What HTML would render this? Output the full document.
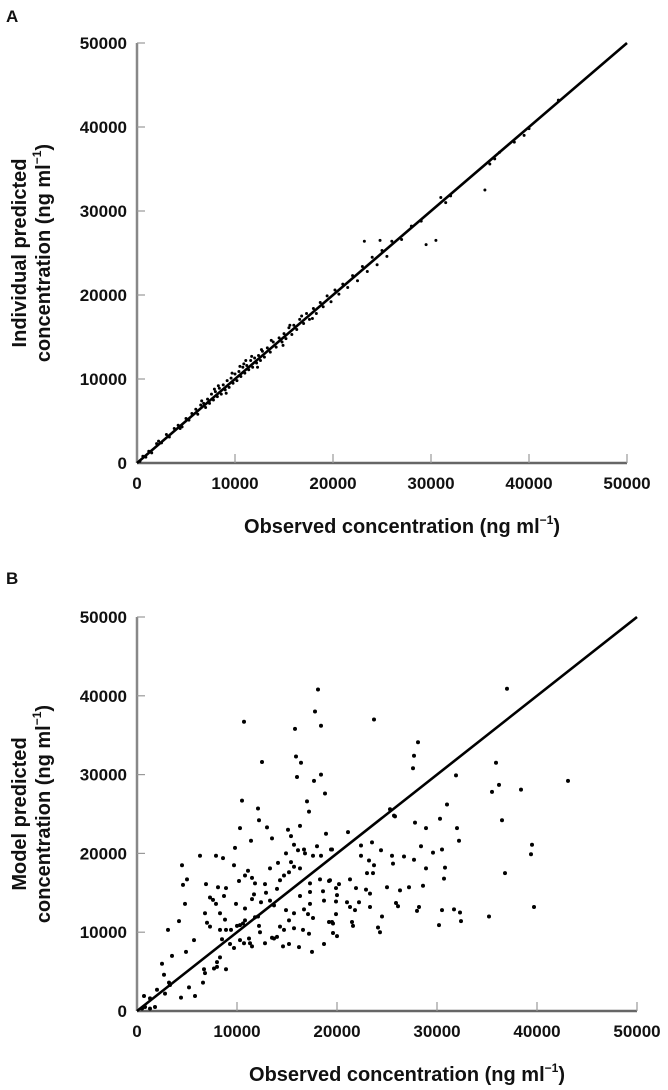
<!DOCTYPE html>
<html><head><meta charset="utf-8">
<style>
html,body{margin:0;padding:0;background:#fff;}
svg{display:block;}
text{font-family:"Liberation Sans",sans-serif;font-weight:bold;fill:#111;}
</style></head>
<body>
<svg id="fig" width="668" height="1090" viewBox="0 0 668 1090"></svg>
<script>
// Panel A data (ng/ml, thousands)
const aObs = [0.3,0.6,0.9,1.2,1.5,2,2.5,3,3.3,3.8,4.2,4.6,5,5.3,5.6,6,6.2,6.5,6.8,7,7.2,7.4,7.6,7.8,8,8.2,8.4,8.6,8.8,9,9.2,9.4,9.6,9.8,10,10.2,10.4,10.6,10.8,11,11.2,11.4,11.6,11.8,12,12.2,12.4,12.6,12.8,13,13.3,13.6,13.9,14.2,14.5,14.8,15,15.2,15.5,15.8,16,16.3,16.6,17,17.3,17.6,18,18.3,18.7,19,19.4,19.8,20.2,20.6,21,21.5,22,22.5,23,23.5,24,24.5,25,25.5,26,27,28,29,29.5,30.5,31,31.5,32,35.5,36,36.5,37,38.5,39.5,40,43,8.3,9.1,10.5,11.1,12.3,13.7,14.9,15.6,16.8,17.9,6.6,7.9,9.7,10.9,11.7,12.7,2.2,4.4,23.2,24.8];
const aPred = [0.2,0.8,0.7,1.4,1.2,2.3,2.4,3.4,3.1,4.1,4.5,4.3,5.3,5.1,5.9,6.4,5.8,6.9,7.1,6.6,7.6,7.1,8.2,7.5,8.5,7.9,8.9,8.2,9.3,8.7,9.8,9,10.1,9.5,10.6,9.8,10.9,10.3,11.4,10.7,11.6,11.1,12.2,11.4,12.5,11.9,12.8,12.2,13.3,12.6,13.7,13.2,14.4,13.8,14.9,14.4,15.4,14.8,16.1,15.3,16.4,15.9,17.1,16.6,17.8,17.1,18.4,17.8,19.1,18.6,19.9,19.2,20.6,20.1,21.3,20.9,22.3,21.7,23.4,22.8,24.5,23.6,25.3,24.6,26.4,26.6,28.2,28.8,26,26.5,31.6,31,31.8,32.5,35.6,36.2,37,38.2,39,39.8,43.2,9.2,8.3,11.5,12.2,11.4,14.6,14,16.4,17.5,17.2,7.4,8.8,10.7,11.8,12.7,13.5,2.6,4.1,26.4,26.5];
// Panel B data
const bObs = [18.1,10.7,17.8,18.4,15.8,23.7,12.5,15.9,16.4,16,18.4,17.7,18.8,10.5,17,17.2,12.1,12.2,13,10.3,15.1,16.3,15.4,18.9,21.1,25.7,37,28.1,27.7,27.6,35.9,31.9,36.2,35.5,38.4,43.1,31,25.8,27.8,28.9,30.3,32,36.5,25.3,39.5,39.4,36.8,39.7,32.2,22.4,23.5,24.4,19.5,22.4,25.5,26.7,25.6,23.2,23.7,23,23.6,27.7,28.4,29.6,30.5,28.9,30.8,30.7,28.6,21.3,20.2,19.9,20,21.9,22.9,23.3,25,26.3,27.2,19.9,21,21.3,21.8,22.2,23.3,25.9,26.1,28.2,28,19.9,24.5,30.5,31.7,32.3,32.4,35.2,30.2,19.5,21.5,21.6,24.1,24.3,19.6,20,19.3,11.4,13.5,9.8,15.7,16.1,16.7,16.8,18,19.4,6.3,7.9,8.6,14.9,17.6,18.4,4.5,9.7,14.1,15.4,15.7,16.3,15.2,13.3,11.1,10.8,11.5,5,4.6,10.2,11.8,6.9,8.1,8.9,14.3,14.7,12.8,14,17.3,18.3,19.2,7.3,7.6,7.9,8.7,11.7,11.5,12.4,9.9,10.8,12.9,13.3,13.7,16.3,17.3,17.3,18.7,18.6,4.8,6.8,8.3,8.8,11.8,12.1,10.8,14.9,15.7,16.7,17.1,15.2,17.6,4.2,7,7.3,8.3,8.9,10,10.3,10.6,9.4,12.2,12.3,14.3,14.7,14,13.7,15.7,16.6,17.2,19.2,19.6,3.1,5.7,8.5,9.3,9.7,10.3,10.7,11.2,11.3,11.5,12.8,13.5,14.6,15.2,16.2,17.5,18.7,4.9,3.5,2.5,8,8.3,7.7,8,8.9,6.7,6.8,6.6,2.7,3.2,3.3,5.2,4.4,5.8,2,2.8,0.7,1.3,0.8,1.3,1.8,0.5];
const bPred = [40.8,36.7,38,36.2,35.8,37,31.6,32.3,31.5,29.7,30,29.2,27.6,26.7,26.6,25.3,25.7,24.2,23.3,23.2,23,23.5,22.2,22.5,22.7,24.8,40.9,34.1,32.4,30.8,31.5,29.9,28.7,27.8,28.1,29.2,26.2,24.7,23.9,23.2,24.4,23.2,24.2,25.6,21.1,19.9,17.5,13.2,21.6,21,21.4,20.4,20.5,19.7,19.7,19.6,18.7,19.1,18.5,17.5,17.5,19.2,20.9,20.1,20.5,18.1,18.2,16.8,15.9,16.7,16.1,15.6,14.7,15.6,15.4,14.9,15.7,15.3,15.7,13.9,13.8,13.2,12.8,13.8,13.2,13.7,13.3,13.2,12.7,12.3,12,12.8,12.9,12.5,11.4,12,10.9,11.3,11.3,10.8,10.6,10,9.9,9.5,16.6,21.6,21.9,20.7,21.1,20.4,20.5,20,20.9,20.5,19.7,19.7,19.4,20,19.7,19.7,18.5,18.5,18.8,18.9,18.3,18.1,17.6,18.1,17.8,17.2,16.9,16.7,16,16.5,16.2,16.1,15.7,15.6,16.6,17.2,16.1,15.5,16.2,16.7,16.5,14.4,14.1,13.6,14.6,14.8,14.2,13.8,13.6,13,15,14,13.4,14.6,15.1,13.6,14,15.2,13.6,12.4,12.4,11.6,11.9,12,11.5,12.8,12.4,12.9,12.3,11.5,11.8,11.4,11.2,10.7,10.3,10.3,10.8,10.9,11.1,10.3,10.8,10,10.7,10.3,9.4,9.2,10.5,10.3,9.8,11.3,11.1,10.3,9,9.1,8.5,8,9,8.6,9.2,8.6,8.2,8.6,9.3,8.2,8.5,8.1,7.5,8.5,7.5,7,6,6.2,6.8,5.4,5.6,5.3,5.3,4.8,3.6,4.6,3.6,3.3,3,1.7,1.9,2.7,2.2,1.9,1.6,0.5,0.3,0.5,0.3];
const ticks = [0,10000,20000,30000,40000,50000];
const tickLabels = ["0","10000","20000","30000","40000","50000"];

const NS = "http://www.w3.org/2000/svg";
const svg = document.getElementById('fig');
function mk(tag, attrs, parent){
  const e = document.createElementNS(NS, tag);
  for (const k in attrs) e.setAttribute(k, attrs[k]);
  (parent||svg).appendChild(e);
  return e;
}
function panel(p, obs, pred, r, letter, ytitle1){
  const g = mk('g', {});
  
  
  const sx = v => p.x0 + (v/50000)*(p.x1-p.x0);
  const sy = v => p.y0 - (v/50000)*(p.y0-p.y1);
  const lt = mk('text', {x:p.letterX, y:p.letterY, 'font-size':17}, g);
  lt.textContent = letter;
  
  
  const ya = mk('line', {x1:p.x0, y1:p.y0, x2:p.x0, y2:p.y1, stroke:'#888', 'stroke-width':2.5}, g);
  
  
  const xa = mk('line', {x1:p.x0, y1:p.y0, x2:p.x1, y2:p.y0, stroke:'#666', 'stroke-width':2.5}, g);
  
  
  ticks.forEach((t,i)=>{
    if (i>0){
      const yt = mk('line', {x1:p.x0, y1:sy(t), x2:p.x0+8, y2:sy(t), stroke:'#999', 'stroke-width':1.2}, g);
      
      
      const xt = mk('line', {x1:sx(t), y1:p.y0, x2:sx(t), y2:p.y0-9, stroke:'#999', 'stroke-width':1.2}, g);
      
      
    }
    const yl = mk('text', {x:p.x0-10, y:sy(t)+6, 'text-anchor':'end', 'font-size':17}, g);
    yl.textContent = tickLabels[i];
    
    
    const xl = mk('text', {x:sx(t), y:p.y0+26, 'text-anchor':'middle', 'font-size':17}, g);
    xl.textContent = tickLabels[i];
    
    
  });
  obs.forEach((o,i)=>{
    const c = mk('circle', {cx:sx(o*1000), cy:sy(pred[i]*1000), r:r, fill:'#000'}, g);
    
    
  });
  const il = mk('line', {x1:sx(0), y1:sy(0), x2:sx(50000), y2:sy(50000), stroke:'#000', 'stroke-width':2.6}, g);
  
  
  const xtl = mk('text', {x:(p.x0+p.x1)/2+20, y:p.y0+70, 'text-anchor':'middle', 'font-size':20}, g);
  xtl.innerHTML = 'Observed concentration (ng ml<tspan font-size="12" dy="-9">−1</tspan><tspan dy="9">)</tspan>';
  
  
  const cy = (p.y0+p.y1)/2;
  const ytl = mk('text', {transform:`translate(26,${cy}) rotate(-90)`, 'text-anchor':'middle', 'font-size':20}, g);
  ytl.textContent = ytitle1;
  
  
  const ytl2 = mk('text', {transform:`translate(50,${cy}) rotate(-90)`, 'text-anchor':'middle', 'font-size':20}, g);
  ytl2.innerHTML = 'concentration (ng ml<tspan font-size="12" dy="-9">−1</tspan><tspan dy="9">)</tspan>';
  
  
}
panel({x0:137,x1:627,y0:463,y1:43,letterX:6,letterY:22}, aObs, aPred, 1.5, 'A', 'Individual predicted');
panel({x0:137,x1:637,y0:1011,y1:617,letterX:6,letterY:584}, bObs, bPred, 2, 'B', 'Model predicted');
</script>
</body></html>
